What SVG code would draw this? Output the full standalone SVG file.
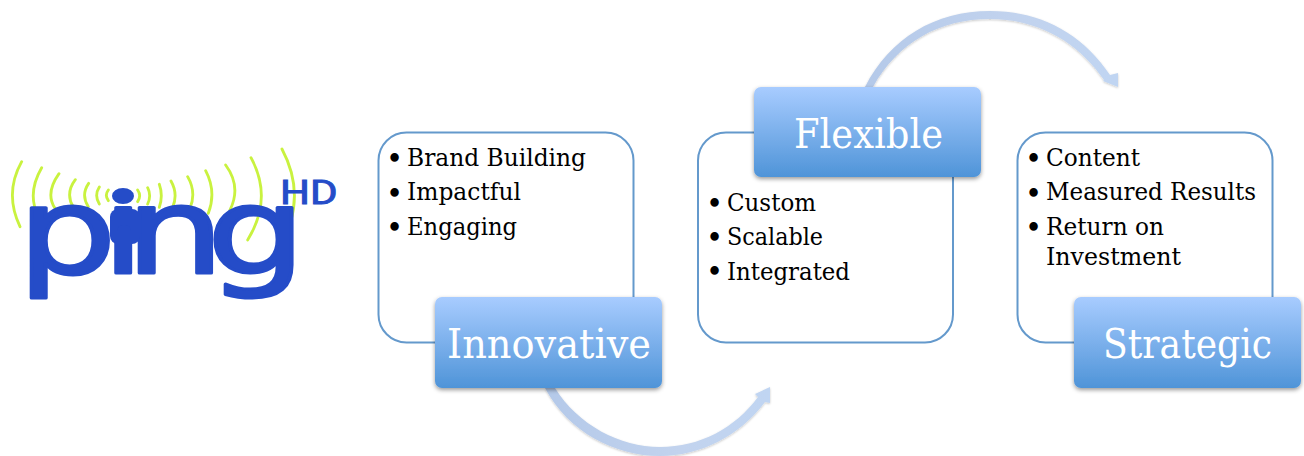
<svg xmlns="http://www.w3.org/2000/svg" width="1304" height="456" viewBox="0 0 1304 456">
<style>
.card{fill:#fff;stroke:#6499cc;stroke-width:2}
.head{fill:url(#hg);filter:url(#sh)}
.lab{font-family:"DejaVu Serif","Liberation Serif",serif;font-size:41px;fill:#fff}
.li{font-family:"DejaVu Serif","Liberation Serif",serif;font-size:24.5px;fill:#000}
.bu{font-family:"DejaVu Serif","Liberation Serif",serif;font-size:29px;fill:#000}
.arc{fill:url(#ag);filter:url(#as)}
.wave{fill:none;stroke:#c9f23f;stroke-width:8.5;stroke-linecap:round}
.lg{fill:#254cc8}
</style>
<defs>
<linearGradient id="hg" x1="0" y1="0" x2="0" y2="1"><stop offset="0" stop-color="#a8ccff"/><stop offset="1" stop-color="#4f94d8"/></linearGradient>
<linearGradient id="ag" x1="0" y1="0" x2="1" y2="0"><stop offset="0" stop-color="#b4c9e9"/><stop offset=".6" stop-color="#c2d3ee"/><stop offset="1" stop-color="#c0d5f2"/></linearGradient>
<filter id="sh" x="-5%" y="-5%" width="110%" height="115%"><feDropShadow dx="0" dy="2" stdDeviation="2" flood-color="#000" flood-opacity=".4"/></filter>
<filter id="as" x="-5%" y="-5%" width="110%" height="115%"><feDropShadow dx="0" dy="1" stdDeviation="1" flood-color="#000" flood-opacity=".22"/></filter>
<clipPath id="noDot"><rect x="0" y="204" width="320" height="110"/></clipPath>
</defs>
<g id="logo">
<g transform="translate(0,130) scale(.3333)">
<path class="wave" d="M65,95Q12,190 60,290M125,113Q80,190 115,260M177,131Q135,190 165,235M226,149Q195,190 220,232M266,160Q242,195 265,230M298,171Q282,196 298,222M325,180Q313,196 325,212M413,180Q425,197 413,215M443,173Q455,197 443,222M478,163Q490,197 478,232M513,153Q535,192 518,232M563,140Q590,187 570,235M617,122Q650,185 625,250M677,105Q725,170 690,240M753,83Q820,205 743,330M846,57Q925,205 837,355"/>
</g>
<g clip-path="url(#noDot)">
<text class="lg" transform="translate(0,272.500) scale(1.3,1)" x="13.500 78 96.500 159" y="0" font-family="DejaVu Sans" font-size="120" stroke="#254cc8" stroke-width="3" stroke-linejoin="round">ping</text>
</g>
<ellipse class="lg" cx="123" cy="196" rx="11" ry="8"/>
<rect class="lg" x="110" y="209" width="30" height="35" rx="8"/>
<rect class="lg" x="117" y="225" width="14" height="49" rx="6"/>
<text class="lg" transform="translate(280,204) scale(1.6,1)" font-family="Roboto" font-size="33" stroke="#254cc8" stroke-width=".9" textLength="36" lengthAdjust="spacingAndGlyphs">HD</text>
</g>
<g id="connectors">
<path class="arc" d="M545,388C568,432 615,456 660,456C700,456 740,436 765,402L770,403L770,387L755,394L758,397C735,428 700,447 660,447C620,447 578,425 555,388Z"/>
<path class="arc" d="M865,87C890,38 935,11 990,11C1040,11 1082,33 1110,75L1118,73L1118,87L1103,81L1104,80C1078,42 1038,19 990,19C940,19 898,42 873,87Z"/>
</g>
<g id="node-innovative">
<rect class="card" x="378.500" y="132.500" width="255" height="210" rx="28"/>
<text class="bu" x="386" y="169">•</text><text class="li" x="407" y="166" textLength="179" lengthAdjust="spacingAndGlyphs">Brand Building</text>
<text class="bu" x="386" y="203.500">•</text><text class="li" x="407" y="200" textLength="114" lengthAdjust="spacingAndGlyphs">Impactful</text>
<text class="bu" x="386" y="238">•</text><text class="li" x="407" y="235" textLength="110" lengthAdjust="spacingAndGlyphs">Engaging</text>
<rect class="head" x="435" y="297" width="227" height="91" rx="7"/>
<text class="lab" x="447" y="358" textLength="204" lengthAdjust="spacingAndGlyphs">Innovative</text>
</g>
<g id="node-flexible">
<rect class="card" x="698" y="132.500" width="255" height="210" rx="28"/>
<text class="bu" x="706" y="214">•</text><text class="li" x="727" y="211" textLength="89" lengthAdjust="spacingAndGlyphs">Custom</text>
<text class="bu" x="706" y="248">•</text><text class="li" x="727" y="245" textLength="96" lengthAdjust="spacingAndGlyphs">Scalable</text>
<text class="bu" x="706" y="282">•</text><text class="li" x="727" y="279.500" textLength="123" lengthAdjust="spacingAndGlyphs">Integrated</text>
<rect class="head" x="754" y="87" width="227" height="90" rx="7"/>
<text class="lab" x="794" y="148" textLength="149" lengthAdjust="spacingAndGlyphs">Flexible</text>
</g>
<g id="node-strategic">
<rect class="card" x="1017.500" y="132.500" width="255" height="210" rx="28"/>
<text class="bu" x="1025" y="169">•</text><text class="li" x="1046" y="166" textLength="94" lengthAdjust="spacingAndGlyphs">Content</text>
<text class="bu" x="1025" y="203.500">•</text><text class="li" x="1046" y="200" textLength="210" lengthAdjust="spacingAndGlyphs">Measured Results</text>
<text class="bu" x="1025" y="238">•</text><text class="li" x="1046" y="235" textLength="118" lengthAdjust="spacingAndGlyphs">Return on</text>
<text class="li" x="1046" y="265" textLength="135" lengthAdjust="spacingAndGlyphs">Investment</text>
<rect class="head" x="1074" y="297" width="227" height="91" rx="7"/>
<text class="lab" x="1103" y="358" textLength="169" lengthAdjust="spacingAndGlyphs">Strategic</text>
</g>
</svg>
